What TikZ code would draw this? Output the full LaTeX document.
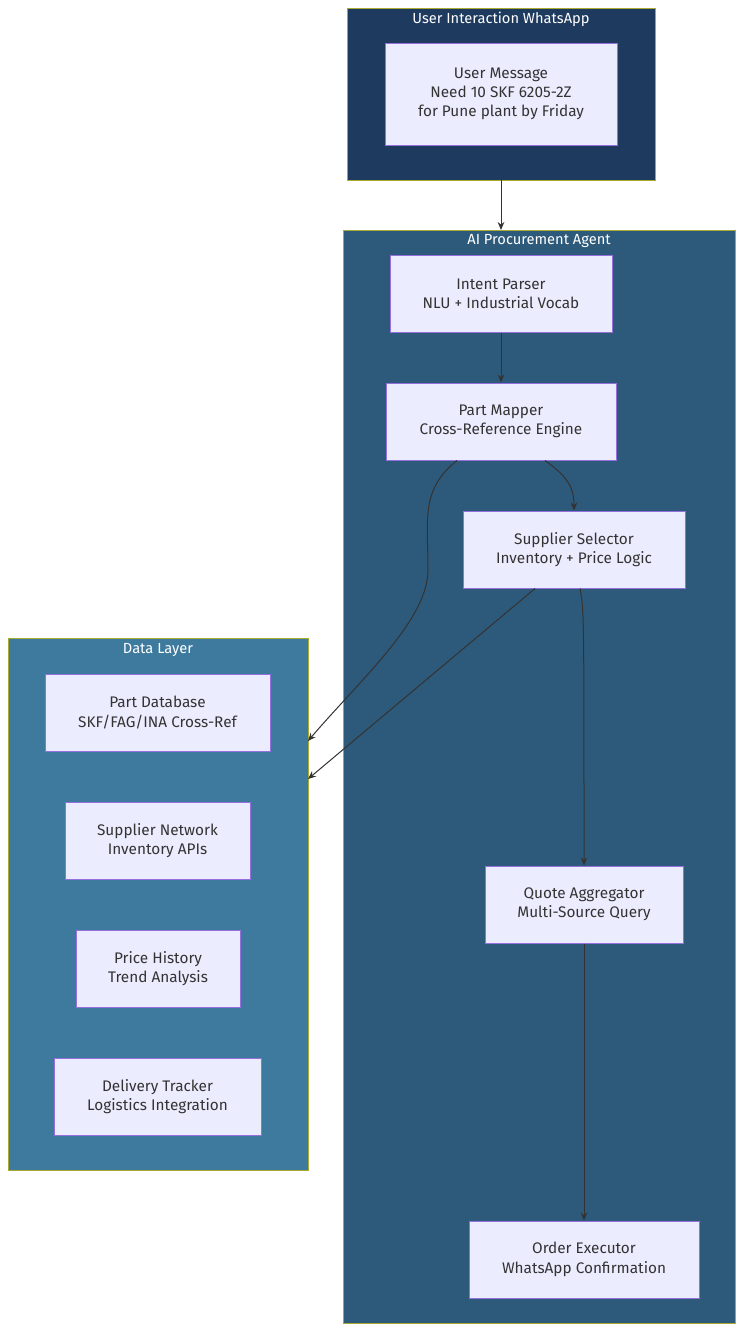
\documentclass[tikz,border=0pt]{standalone}
\usepackage{fontspec}
\setmainfont{Fira Sans}
\usetikzlibrary{arrows.meta}
\definecolor{c1}{HTML}{1E3A5F}
\definecolor{c2}{HTML}{2D5A7B}
\definecolor{c3}{HTML}{3D7A9E}
\definecolor{nf}{HTML}{ECECFF}
\definecolor{ns}{HTML}{9370DB}
\definecolor{cb}{HTML}{AAAA33}
\definecolor{tx}{HTML}{333333}
\begin{document}
\begin{tikzpicture}[x=0.75pt,y=-0.75pt,
 box/.style={draw=ns,fill=nf,line width=0.75pt,text=tx,font=\fontsize{11.5}{14.5}\selectfont,align=center,inner sep=0pt},
 clu/.style={draw=cb,line width=0.75pt},
 ttl/.style={text=white,font=\fontsize{11}{13}\selectfont},
 ar/.style={draw=tx,line width=0.75pt,-{Stealth[length=6pt,width=5pt]}}]
\useasboundingbox (0,0) rectangle (743,1332);
\path[clu,fill=c1] (347,8) rectangle (655,180);
\node[ttl] (t1) at (501,19) {User Interaction WhatsApp};
\path[clu,fill=c2] (343,230) rectangle (735,1323);
\node[ttl] (t2) at (539,241) {AI Procurement Agent};
\path[clu,fill=c3] (8,638) rectangle (308,1170);
\node[ttl] (t3) at (158,650) {Data Layer};
\coordinate (c1b) at (501,180);
\coordinate (c2t) at (501,230);
\coordinate (d1) at (308,741);
\coordinate (d2) at (308,779);
\newcommand{\bx}[6]{\node[box,minimum width=#3*0.75pt,minimum height=#4*0.75pt] (#1) at (#2) {#5\\#6};}
\bx{um}{501,94}{232}{102}{User Message\\Need 10 SKF 6205-2Z}{for Pune plant by Friday}
\bx{ip}{501,293.5}{222}{77}{Intent Parser}{NLU + Industrial Vocab}
\bx{pm}{501,421.5}{230}{77}{Part Mapper}{Cross-Reference Engine}
\bx{ss}{574,549.5}{222}{77}{Supplier Selector}{Inventory + Price Logic}
\bx{qa}{584,904.5}{198}{77}{Quote Aggregator}{Multi-Source Query}
\bx{oe}{584,1259.5}{230}{77}{Order Executor}{WhatsApp Confirmation}
\bx{pd}{157.5,712.5}{225}{77}{Part Database}{SKF/FAG/INA Cross-Ref}
\bx{sn}{157.5,840.5}{185}{77}{Supplier Network}{Inventory APIs}
\bx{ph}{158,968.5}{164}{77}{Price History}{Trend Analysis}
\bx{dt}{157.5,1096.5}{207}{77}{Delivery Tracker}{Logistics Integration}
\draw[ar] (c1b) -- (c2t);
\draw[ar] (ip) -- (pm);
\draw[ar] (pm.south -| 545,0) .. controls (565,475) and (574,485) .. (ss.north);
\draw[ar] (pm.south -| 457,0) .. controls (420,490) and (428,520) .. (428,570) .. controls (428,620) and (360,680) .. (d1);
\draw[ar] (ss.south -| 535,0) -- (d2);
\draw[ar] (ss.south -| 580,0) .. controls (584,610) .. (qa.north);
\draw[ar] (qa) -- (oe);
\end{tikzpicture}
\end{document}
